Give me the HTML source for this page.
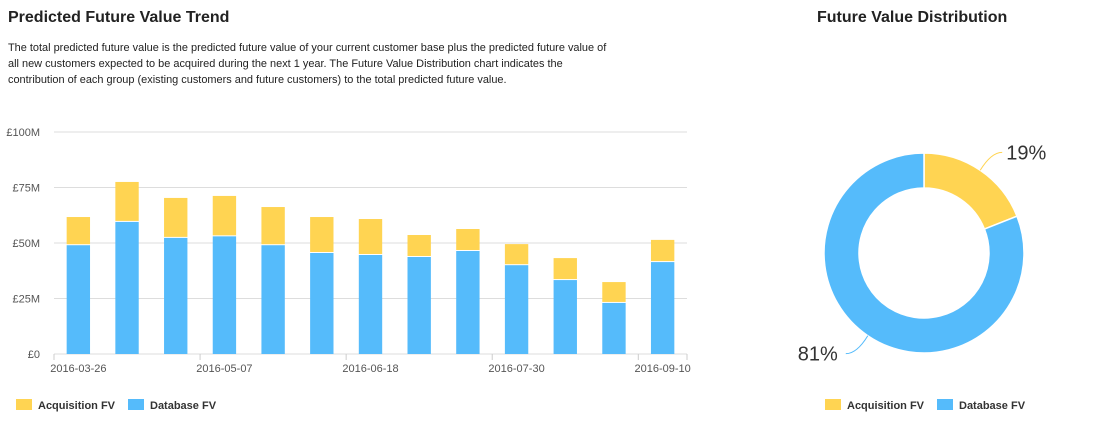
<!DOCTYPE html>
<html><head><meta charset="utf-8"><style>
body{margin:0;width:1099px;height:435px;background:#fff;font-family:"Liberation Sans",Arial,sans-serif;overflow:hidden;position:relative}
h1{position:absolute;margin:0;font-size:16px;font-weight:bold;color:#222}
.desc{position:absolute;left:8px;top:40px;width:680px;font-size:10.95px;line-height:16px;color:#222;white-space:nowrap}
</style></head><body>
<h1 style="left:8px;top:9px">Predicted Future Value Trend</h1>
<h1 style="left:817px;top:9px">Future Value Distribution</h1>
<div class="desc">The total predicted future value is the predicted future value of your current customer base plus the predicted future value of<br>all new customers expected to be acquired during the next 1 year. The Future Value Distribution chart indicates the<br>contribution of each group (existing customers and future customers) to the total predicted future value.</div>
<svg id="bar" width="1099" height="435" style="position:absolute;left:0;top:0" font-family="Liberation Sans, Arial, sans-serif"></svg>
<script>
const categories=["2016-03-26","2016-04-02","2016-04-09","2016-05-07","2016-05-14","2016-05-21","2016-06-18","2016-06-25","2016-07-02","2016-07-30","2016-08-06","2016-08-13","2016-09-10"];
const databaseFV=[49,59.5,52.3,53,49,45.5,44.6,43.7,46.4,40,33.3,23,41.4];
const acquisitionFV=[12.7,18,18,18.2,17.2,16.2,16.2,9.9,9.9,9.5,9.9,9.4,10];
const yTicks=[0,25,50,75,100];
const yTickLabels=["£0","£25M","£50M","£75M","£100M"];
const xLabelIdx=[0,3,6,9,12];
const xLabels=["2016-03-26","2016-05-07","2016-06-18","2016-07-30","2016-09-10"];
const pieValues=[19,81];
const pieLabels=["19%","81%"];
const YEL="#FFD452",BLU="#55BBFB";
const svg=document.getElementById('bar');const NS="http://www.w3.org/2000/svg";
function mk(t,a,p){const e=document.createElementNS(NS,t);for(const k in a)e.setAttribute(k,a[k]);(p||svg).appendChild(e);return e;}
const X0=54,X1=687,Y0=354,Y1=132;
const bw=(X1-X0)/categories.length;
const y=v=>Y0-(v/100)*(Y0-Y1);
const xc=i=>X0+bw*(i+0.5);
yTicks.forEach((t,i)=>{
 const l=mk('line',{x1:X0,x2:X1,y1:y(t),y2:y(t),stroke:'#ddd','stroke-width':1});
 
 
 const tx=mk('text',{x:40,y:y(t)+4,'text-anchor':'end','font-size':11,fill:'#555'});tx.textContent=yTickLabels[i];
 
 
});
for(let i=0;i<=categories.length;i+=3){const xx=X0+bw*i;mk('line',{x1:xx,x2:xx,y1:Y0,y2:Y0+6,stroke:'#ccc'});}
mk('line',{x1:X1,x2:X1,y1:Y0,y2:Y0+6,stroke:'#ccc'});
categories.forEach((c,i)=>{
 const w=bw*0.48,x=xc(i)-w/2;
 const b=mk('rect',{x:x,y:y(databaseFV[i]),width:w,height:Y0-y(databaseFV[i]),fill:BLU});
 
 
 const tot=databaseFV[i]+acquisitionFV[i];
 const a=mk('rect',{x:x,y:y(tot),width:w,height:y(databaseFV[i])-y(tot)-1,fill:YEL});
 
 
});
xLabelIdx.forEach((idx,i)=>{
 const t=mk('text',{x:xc(idx),y:372,'text-anchor':'middle','font-size':11,fill:'#555'});t.textContent=xLabels[i];
 
 
});
function legend(x,yy){
 [[YEL,"Acquisition FV",0],[BLU,"Database FV",112]].forEach(([c,l,o])=>{
  const g=mk('g',{});
  
  
  mk('rect',{x:x+o,y:yy-6,width:16,height:11,fill:c},g);
  const t=mk('text',{x:x+o+22,y:yy+4,'font-size':11,'font-weight':'bold',fill:'#333'},g);t.textContent=l;
 });
}
legend(16,405);legend(825,405);
const cx=924,cy=253,R=100,r=65;let ang=0;const tot=pieValues.reduce((a,b)=>a+b,0);
pieValues.forEach((v,i)=>{
 const a0=ang,a1=ang+v/tot*2*Math.PI;ang=a1;
 const p=(a,rr)=>[cx+rr*Math.sin(a),cy-rr*Math.cos(a)];
 const [x1,y1]=p(a0,R),[x2,y2]=p(a1,R),[x3,y3]=p(a1,r),[x4,y4]=p(a0,r);const lg=a1-a0>Math.PI?1:0;
 const s=mk('path',{d:`M${x1},${y1}A${R},${R} 0 ${lg} 1 ${x2},${y2}L${x3},${y3}A${r},${r} 0 ${lg} 0 ${x4},${y4}Z`,fill:i?BLU:YEL,stroke:'#fff','stroke-width':1.5});
 
 
 const m=(a0+a1)/2;const [lx,ly]=p(m,R);const right=Math.sin(m)>0;
 const ex=right?lx+22:lx-22,ey=cy-(R+6)*Math.cos(m)-(Math.cos(m)>0?13:-13);
 mk('path',{d:`M${lx},${ly}Q${(lx+ex)/2},${ey} ${ex},${ey}`,fill:'none',stroke:i?BLU:YEL,'stroke-width':1});
 const t=mk('text',{x:right?ex+4:ex-8,y:ey+7,'text-anchor':right?'start':'end','font-size':20,fill:'#333'});t.textContent=pieLabels[i];
 
 
});
</script>
</body></html>
